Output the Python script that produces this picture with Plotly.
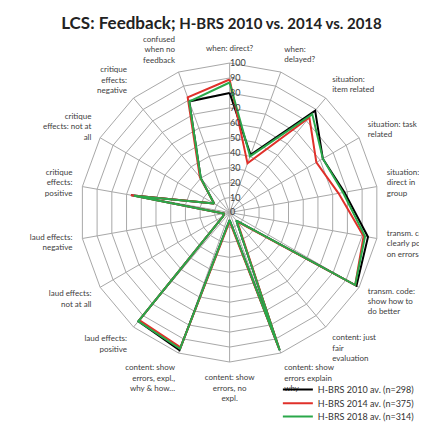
import plotly.graph_objects as go

categories = [
    "when: direct?", "when: delayed?", "situation: item related", "situation: task related",
    "situation: direct in group", "transm. code: clearly point on errors",
    "transm. code: show how to do better", "content: just fair evaluation",
    "content: show errors explain why", "content: show errors, no expl.",
    "content: show errors, expl., why & how...", "laud effects: positive",
    "laud effects: not at all", "laud effects: negative", "critique effects: positive",
    "critique effects: not at all", "critique effects: negative", "confused when no feedback",
]
tick_labels = [
    "when: direct?", "when:<br>delayed?", "situation:<br>item related", "situation: task<br>related",
    "situation:<br>direct in<br>group", "transm. code:<br>clearly point<br>on errors",
    "transm. code:<br>show how to<br>do better", "content: just<br>fair<br>evaluation",
    "content: show<br>errors explain<br>why", "content: show<br>errors, no<br>expl.",
    "content: show<br>errors, expl.,<br>why & how...", "laud effects:<br>positive",
    "laud effects:<br>not at all", "laud effects:<br>negative", "critique<br>effects:<br>positive",
    "critique<br>effects: not at<br>all", "critique<br>effects:<br>negative", "confused<br>when no<br>feedback",
]
radial_ticks = [0, 10, 20, 30, 40, 50, 60, 70, 80, 90, 100]

series_names = ["H-BRS 2010 av. (n=298)", "H-BRS 2014 av. (n=375)", "H-BRS 2018 av. (n=314)"]
values_2010 = [80, 41, 89, 72, 78, 94, 98, 7, 98, 5, 98, 95, 5, 4, 67, 12, 30, 79]
values_2014 = [89, 35, 83, 67, 74, 91, 97, 8, 97, 6, 96, 94, 5, 4, 67, 12, 31, 82]
values_2018 = [87, 40, 86, 72, 77, 92, 97, 7, 98, 5, 97, 95, 5, 4, 65, 12, 30, 79]
colors = ["#000000", "#e0302a", "#2aa84a"]
legend_ids = ["legend", "legend2", "legend3"]

fig = go.Figure()
for name, vals, col, lg in zip(series_names, [values_2010, values_2014, values_2018], colors, legend_ids):
    fig.add_trace(go.Scatterpolar(
        r=vals + vals[:1], theta=categories + categories[:1], mode="lines", name=name,
        line=dict(color=col, width=2), legend=lg,
    ))

legend_style = dict(
    x=0.632, xanchor="left", yanchor="middle",
    font=dict(size=9, color="#333333"), bgcolor="rgba(0,0,0,0)", itemwidth=30,
)

fig.update_layout(
    width=427, height=423,
    margin=dict(l=0, r=0, t=0, b=0),
    paper_bgcolor="white",
    font=dict(family="Lato, Carlito, sans-serif", color="#404040", size=8),
    title=dict(
        text="<b><span style='font-size:17px'>LCS: Feedback;</span> H-BRS 2010 vs. 2014 vs. 2018</b>",
        x=0.5, xanchor="center", y=0.962, yanchor="middle",
        font=dict(size=15, color="#222222", family="Lato, Carlito, sans-serif"),
    ),
    polar=dict(
        domain=dict(x=[0.164, 0.874], y=[0.151, 0.868]),
        bgcolor="white",
        gridshape="linear",
        angularaxis=dict(
            rotation=90, direction="clockwise", type="category",
            tickmode="array", tickvals=categories, ticktext=tick_labels,
            gridcolor="#a8a8a8", gridwidth=1, linecolor="#a8a8a8", linewidth=1,
            ticks="outside", ticklen=8, tickcolor="rgba(0,0,0,0)",
            tickfont=dict(size=8, color="#404040"),
        ),
        radialaxis=dict(
            range=[0, 100], tickvals=radial_ticks, angle=90, side="clockwise",
            tickangle=90, gridcolor="#a8a8a8", gridwidth=1, showline=False, ticks="",
            tickfont=dict(size=9, color="#404040"),
        ),
    ),
    showlegend=True,
    legend=dict(y=0.085, **legend_style),
    legend2=dict(y=0.052, **legend_style),
    legend3=dict(y=0.020, **legend_style),
)

fig.write_html("out.html")
